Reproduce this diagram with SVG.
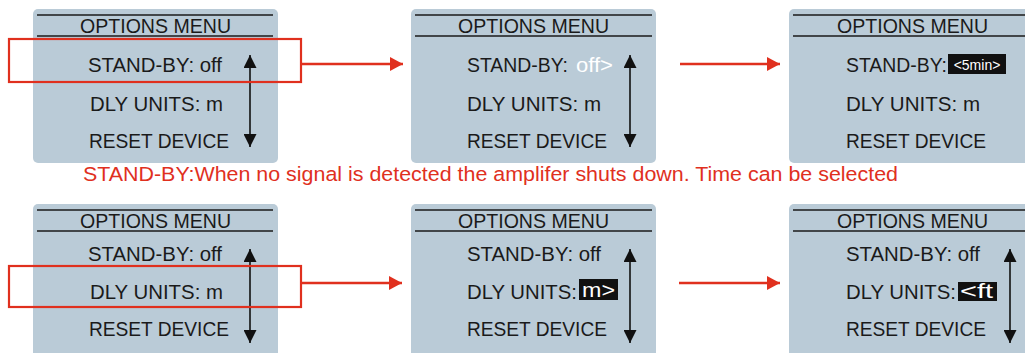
<svg xmlns="http://www.w3.org/2000/svg" width="1025" height="353" viewBox="0 0 1025 353">
<style>
.panel{fill:#bacbd7}
.rule{stroke:#1a1a1a;stroke-width:1.5}
.t{font-family:"Liberation Sans",Arial,sans-serif;font-size:20px;fill:#1a1a1a}
.title{text-anchor:middle}
.w{fill:#ffffff}
.hl{fill:#111111}
.sm{font-family:"Liberation Sans",Arial,sans-serif;font-size:14px;fill:#ffffff}
.vert{stroke:#111;stroke-width:1.6;marker-start:url(#vh);marker-end:url(#vh)}
.sel{fill:none;stroke:#e0301e;stroke-width:2.2}
.conn{stroke:#e0301e;stroke-width:2.5;fill:none;marker-end:url(#rh)}
.cap{font-family:"Liberation Sans",Arial,sans-serif;font-size:20.5px;fill:#e0301e}
</style>
<defs>
<marker id="vh" markerUnits="userSpaceOnUse" markerWidth="13" markerHeight="13" refX="13" refY="6.5" orient="auto-start-reverse" viewBox="0 0 13 13"><path d="M0,0 L13,6.5 L0,13 z" fill="#111"/></marker>
<marker id="rh" markerUnits="userSpaceOnUse" markerWidth="13" markerHeight="14" refX="13" refY="7" orient="auto" viewBox="0 0 13 14"><path d="M0,0 L13,7 L0,14 z" fill="#e0301e"/></marker>
</defs>

<g id="panel-top-1">
<rect class="panel" x="33" y="9" width="245" height="154" rx="5"/>
<line class="rule" x1="37" y1="15" x2="273" y2="15"/>
<line class="rule" x1="37" y1="36" x2="273" y2="36"/>
<text class="t" x="80" y="33" textLength="151" lengthAdjust="spacingAndGlyphs">OPTIONS MENU</text>
<text class="t" x="88" y="72" textLength="134" lengthAdjust="spacingAndGlyphs">STAND-BY: off</text>
<text class="t" x="90" y="111" textLength="133" lengthAdjust="spacingAndGlyphs">DLY UNITS: m</text>
<text class="t" x="89" y="148" textLength="140" lengthAdjust="spacingAndGlyphs">RESET DEVICE</text>
<line class="vert" x1="250" y1="55" x2="250" y2="147"/>
</g>

<g id="panel-top-2">
<rect class="panel" x="411" y="9" width="245" height="154" rx="5"/>
<line class="rule" x1="415" y1="15" x2="652" y2="15"/>
<line class="rule" x1="415" y1="36" x2="652" y2="36"/>
<text class="t" x="458" y="33" textLength="151" lengthAdjust="spacingAndGlyphs">OPTIONS MENU</text>
<text class="t" x="467" y="72" textLength="101" lengthAdjust="spacingAndGlyphs">STAND-BY:</text>
<text class="t w" x="576" y="72" textLength="37" lengthAdjust="spacingAndGlyphs">off&gt;</text>
<text class="t" x="467" y="111" textLength="134" lengthAdjust="spacingAndGlyphs">DLY UNITS: m</text>
<text class="t" x="467" y="148" textLength="140" lengthAdjust="spacingAndGlyphs">RESET DEVICE</text>
<line class="vert" x1="630" y1="55" x2="630" y2="147"/>
</g>

<g id="panel-top-3">
<rect class="panel" x="789" y="9" width="245" height="154" rx="5"/>
<line class="rule" x1="793" y1="15" x2="1030" y2="15"/>
<line class="rule" x1="793" y1="36" x2="1030" y2="36"/>
<text class="t" x="837" y="33" textLength="151" lengthAdjust="spacingAndGlyphs">OPTIONS MENU</text>
<text class="t" x="846" y="72" textLength="101" lengthAdjust="spacingAndGlyphs">STAND-BY:</text>
<rect class="hl" x="948" y="54" width="58" height="20"/>
<text class="sm" x="977" y="69.5" text-anchor="middle">&lt;5min&gt;</text>
<text class="t" x="846" y="111" textLength="134" lengthAdjust="spacingAndGlyphs">DLY UNITS: m</text>
<text class="t" x="846" y="148" textLength="140" lengthAdjust="spacingAndGlyphs">RESET DEVICE</text>
</g>

<g id="caption">
<text class="cap" x="83" y="181" textLength="815" lengthAdjust="spacingAndGlyphs">STAND-BY:When no signal is detected the amplifer shuts down. Time can be selected</text>
</g>

<g id="panel-bot-1">
<rect class="panel" x="33" y="204" width="245" height="160" rx="5"/>
<line class="rule" x1="37" y1="210" x2="273" y2="210"/>
<line class="rule" x1="37" y1="231" x2="273" y2="231"/>
<text class="t" x="80" y="228" textLength="151" lengthAdjust="spacingAndGlyphs">OPTIONS MENU</text>
<text class="t" x="88" y="261" textLength="134" lengthAdjust="spacingAndGlyphs">STAND-BY: off</text>
<text class="t" x="90" y="299" textLength="133" lengthAdjust="spacingAndGlyphs">DLY UNITS: m</text>
<text class="t" x="89" y="336" textLength="140" lengthAdjust="spacingAndGlyphs">RESET DEVICE</text>
<line class="vert" x1="250" y1="249" x2="250" y2="343"/>
</g>

<g id="panel-bot-2">
<rect class="panel" x="411" y="204" width="245" height="160" rx="5"/>
<line class="rule" x1="415" y1="210" x2="652" y2="210"/>
<line class="rule" x1="415" y1="231" x2="652" y2="231"/>
<text class="t" x="458" y="228" textLength="151" lengthAdjust="spacingAndGlyphs">OPTIONS MENU</text>
<text class="t" x="467" y="261" textLength="134" lengthAdjust="spacingAndGlyphs">STAND-BY: off</text>
<text class="t" x="467" y="299" textLength="110" lengthAdjust="spacingAndGlyphs">DLY UNITS:</text>
<rect class="hl" x="579" y="279" width="39" height="21"/>
<text class="t w" x="582" y="297" textLength="33" lengthAdjust="spacingAndGlyphs">m&gt;</text>
<text class="t" x="467" y="336" textLength="140" lengthAdjust="spacingAndGlyphs">RESET DEVICE</text>
<line class="vert" x1="630" y1="249" x2="630" y2="343"/>
</g>

<g id="panel-bot-3">
<rect class="panel" x="789" y="204" width="245" height="160" rx="5"/>
<line class="rule" x1="793" y1="210" x2="1030" y2="210"/>
<line class="rule" x1="793" y1="231" x2="1030" y2="231"/>
<text class="t" x="837" y="228" textLength="151" lengthAdjust="spacingAndGlyphs">OPTIONS MENU</text>
<text class="t" x="846" y="261" textLength="134" lengthAdjust="spacingAndGlyphs">STAND-BY: off</text>
<text class="t" x="846" y="299" textLength="110" lengthAdjust="spacingAndGlyphs">DLY UNITS:</text>
<rect class="hl" x="958" y="282" width="39" height="19"/>
<text class="t w" x="960" y="298" textLength="33" lengthAdjust="spacingAndGlyphs">&lt;ft</text>
<text class="t" x="846" y="336" textLength="140" lengthAdjust="spacingAndGlyphs">RESET DEVICE</text>
<line class="vert" x1="1010" y1="249" x2="1010" y2="343"/>
</g>

<g id="connectors">
<rect class="sel" x="9" y="39" width="292" height="43"/>
<rect class="sel" x="9" y="266" width="292" height="41"/>
<line class="conn" x1="301" y1="64" x2="403" y2="64"/>
<line class="conn" x1="680" y1="64" x2="780" y2="64"/>
<line class="conn" x1="301" y1="283" x2="402" y2="283"/>
<line class="conn" x1="679" y1="283" x2="780" y2="283"/>
</g>
</svg>
